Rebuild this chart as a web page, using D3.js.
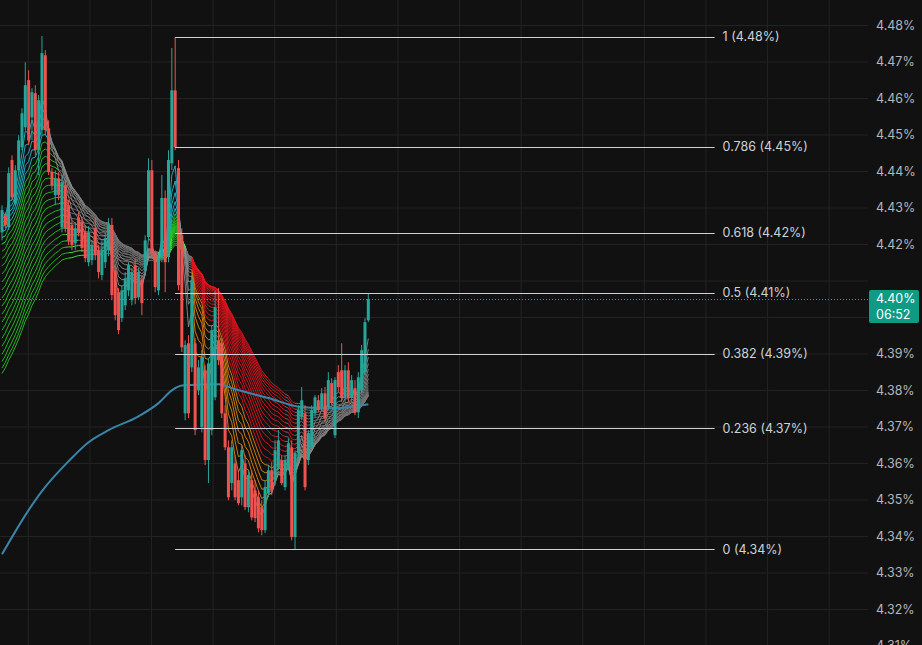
<!DOCTYPE html>
<html><head><meta charset="utf-8">
<script src="https://cdn.jsdelivr.net/npm/d3@7"></script>
<style>html,body{margin:0;padding:0;background:#111111;overflow:hidden}</style>
</head><body><svg id="c" width="922" height="645"></svg>
<script>
// ---------- DATA ----------
const open = [
4.4232,4.4279,4.4246,4.4430,4.4312,4.4402,4.4465,4.4520,4.4649,4.4547,
4.4613,4.4457,4.4512,4.4717,4.4517,4.4397,4.4334,4.4380,4.4246,4.4361,
4.4306,4.4252,4.4202,4.4273,4.4260,4.4232,4.4150,4.4156,4.4243,4.4183,
4.4115,4.4150,4.4183,4.4252,4.4128,4.4068,4.3997,4.4032,4.4073,4.4046,
4.4142,4.4054,4.4101,4.4128,4.4219,4.4402,4.4175,4.4073,4.4161,4.4326,
4.4164,4.4421,4.4621,4.4408,4.4224,4.3736,4.3928,4.3862,4.3928,4.3799,
4.3698,4.3854,4.3608,4.3690,4.3780,4.3936,4.3928,4.3736,4.3643,4.3545,
4.3599,4.3553,4.3506,4.3599,4.3479,4.3553,4.3525,4.3506,4.3479,4.3416,
4.3517,4.3580,4.3553,4.3588,4.3608,4.3534,4.3588,4.3643,4.3397,4.3627,
4.3725,4.3736,4.3608,4.3643,4.3736,4.3772,4.3753,4.3791,4.3753,4.3819,
4.3676,4.3849,4.3854,4.3778,4.3854,4.3778,4.3805,4.3739,4.3799,4.3849,4.3991];
const high = [
4.4306,4.4287,4.4410,4.4443,4.4416,4.4498,4.4572,4.4698,4.4676,4.4627,
4.4635,4.4608,4.4770,4.4731,4.4539,4.4408,4.4402,4.4397,4.4389,4.4375,
4.4320,4.4265,4.4260,4.4287,4.4271,4.4252,4.4249,4.4210,4.4273,4.4197,
4.4210,4.4232,4.4271,4.4271,4.4142,4.4079,4.4087,4.4123,4.4150,4.4134,
4.4161,4.4134,4.4115,4.4224,4.4435,4.4430,4.4183,4.4169,4.4389,4.4347,
4.4457,4.4737,4.4767,4.4430,4.4243,4.3936,4.3950,4.4115,4.3942,4.3882,
4.3909,4.3868,4.3887,4.3978,4.4073,4.4079,4.3942,4.3758,4.3662,4.3662,
4.3621,4.3580,4.3649,4.3621,4.3580,4.3580,4.3553,4.3525,4.3498,4.3553,
4.3594,4.3602,4.3662,4.3690,4.3621,4.3621,4.3668,4.3662,4.3635,4.3758,
4.3808,4.3758,4.3690,4.3758,4.3786,4.3786,4.3805,4.3808,4.3849,4.3832,
4.3835,4.3868,4.3928,4.3868,4.3876,4.3841,4.3827,4.3849,4.3923,4.3997,4.4065];
const low = [
4.4210,4.4243,4.4238,4.4320,4.4304,4.4389,4.4457,4.4512,4.4471,4.4484,
4.4443,4.4389,4.4498,4.4498,4.4389,4.4347,4.4306,4.4320,4.4232,4.4232,
4.4197,4.4183,4.4183,4.4221,4.4178,4.4150,4.4139,4.4142,4.4156,4.4106,
4.4101,4.4134,4.4167,4.4046,4.3991,4.3953,4.3986,4.4019,4.4057,4.4032,
4.4035,4.4046,4.4005,4.4115,4.4210,4.4161,4.4068,4.4060,4.4150,4.4068,
4.4150,4.4402,4.4457,4.4073,4.3904,4.3717,4.3723,4.3849,4.3676,4.3786,
4.3684,4.3594,4.3545,4.3676,4.3772,4.3868,4.3723,4.3635,4.3498,4.3525,
4.3498,4.3484,4.3484,4.3471,4.3465,4.3443,4.3438,4.3410,4.3402,4.3408,
4.3506,4.3512,4.3539,4.3580,4.3539,4.3525,4.3580,4.3388,4.3364,4.3613,
4.3717,4.3525,4.3594,4.3635,4.3725,4.3739,4.3745,4.3712,4.3745,4.3758,
4.3668,4.3794,4.3767,4.3767,4.3767,4.3767,4.3731,4.3723,4.3791,4.3841,4.3986];
const close = [
4.4293,4.4252,4.4394,4.4328,4.4402,4.4484,4.4558,4.4635,4.4484,4.4616,
4.4457,4.4594,4.4723,4.4512,4.4397,4.4361,4.4380,4.4334,4.4369,4.4243,
4.4210,4.4197,4.4243,4.4230,4.4189,4.4161,4.4232,4.4197,4.4169,4.4123,
4.4183,4.4216,4.4252,4.4060,4.4005,4.3964,4.4073,4.4106,4.4142,4.4123,
4.4052,4.4123,4.4038,4.4210,4.4402,4.4175,4.4082,4.4161,4.4326,4.4150,
4.4430,4.4621,4.4465,4.4087,4.3917,4.3923,4.3736,4.4101,4.3690,4.3862,
4.3890,4.3608,4.3873,4.3964,4.4027,4.3882,4.3736,4.3643,4.3506,4.3643,
4.3506,4.3490,4.3635,4.3479,4.3567,4.3451,4.3449,4.3421,4.3416,4.3534,
4.3580,4.3525,4.3635,4.3662,4.3545,4.3608,4.3654,4.3397,4.3627,4.3745,
4.3772,4.3534,4.3682,4.3745,4.3780,4.3745,4.3791,4.3723,4.3827,4.3764,
4.3827,4.3808,4.3778,4.3854,4.3778,4.3827,4.3739,4.3835,4.3909,4.3986,4.4049];

// moving-average ribbon: periods and their values at the left edge of the picture
const ribbonPeriods = [5,7,9,11,13,15,17,19,21,23,25,27,29,31,33,35,37,39,41,43,45,47,49,51];
const ribbonSeeds = [4.4290,4.4275,4.4262,4.4250,4.4235,4.4218,4.4200,4.4180,4.4160,4.4140,4.4118,4.4096,
                     4.4074,4.4052,4.4030,4.4008,4.3986,4.3964,4.3942,4.3920,4.3898,4.3878,4.3860,4.3845];

// long moving average (blue), read at a few candle positions
const longMaIdx = [0,8,12,20,26,32,41,47,51,54,65,70,80,90,100,110];
const longMaVal = [4.3350,4.3471,4.3523,4.3605,4.3657,4.3690,4.3728,4.3764,4.3799,4.3812,4.3816,4.3802,4.3778,4.3753,4.3750,4.3761];

// fibonacci retracement
const fibRatios = [1, 0.786, 0.618, 0.5, 0.382, 0.236, 0];
const fibHighIdx = 52, fibLowIdx = 88, fibEndIdx = 214;

const yTickValues = [4.31,4.32,4.33,4.34,4.35,4.36,4.37,4.38,4.39,4.40,4.41,4.42,4.43,4.44,4.45,4.46,4.47,4.48];
const timeGridIdx = [7.9,26.4,44.9,63.4,81.9,100.4,118.9,137.4,155.9,174.4,192.9,211.4,229.9,248.4];
const countdown = "06:52";

// ---------- DRAW ----------
const W = 922, H = 645, plotRight = 868;
const FONT = "Inter, 'Noto Sans', sans-serif";
const svg = d3.select('#c');
const y = d3.scaleLinear().domain([4.48, 4.32]).range([25, 609]);
const x = d3.scaleLinear().domain([0, 110]).range([2, 368.3]);
const UP = '#26a69a', DOWN = '#ef5350';

svg.append('rect').attr('width', W).attr('height', H).attr('fill', '#111111');

// grid
const gH = svg.append('g').attr('transform', `translate(${plotRight},0)`)
  .call(d3.axisLeft(y).tickValues(yTickValues).tickSize(plotRight).tickFormat(''));
gH.select('.domain').remove();
gH.selectAll('line').attr('stroke', '#232323');
svg.append('g').selectAll('line').data(timeGridIdx).join('line')
  .attr('x1', d => x(d)).attr('x2', d => x(d)).attr('y1', 0).attr('y2', H)
  .attr('stroke', '#232323');

// ribbon
const n = close.length;
const emas = ribbonPeriods.map((p, k) => {
  const a = 2 / (p + 1); const out = [ribbonSeeds[k]];
  for (let i = 1; i < n; i++) out.push(out[i - 1] + a * (close[i] - out[i - 1]));
  return out;
});
const longest = emas[emas.length - 1];
const mid = emas[8];
const LAG = 6;
function segColor(k, i) {
  const j = Math.max(0, i - LAG);
  const s = (emas[k][i] - emas[k][j]) / (i - j);
  const sl = (longest[i] - longest[j]) / (i - j);
  const up = mid[i] > longest[i];
  const p = ribbonPeriods[k];
  if (s > 0.00008 && up && sl > 0.0001 && i < 100) return p <= 13 ? '#22b8cf' : (s < 0.0006 ? '#45ee45' : '#24c424');
  if (s < -0.0001 && !up && sl < -0.0008) return p <= 17 ? '#e0850c' : '#e3141c';
  return p <= 17 ? '#8a8a8a' : '#727272';
}
const gR = svg.append('g').attr('fill', 'none').attr('stroke-width', 1);
for (let k = emas.length - 1; k >= 0; k--) {
  let cur = null, pts = [];
  const flush = () => {
    if (pts.length > 1) gR.append('path').attr('stroke', cur).attr('stroke-opacity', 0.9)
      .attr('d', d3.line().x(d => x(d)).y(d => y(emas[k][d]))(pts));
  };
  for (let i = 1; i < n; i++) {
    const c = segColor(k, i);
    if (c !== cur) { flush(); cur = c; pts = [i - 1]; }
    pts.push(i);
  }
  flush();
}

// long MA
svg.append('path').datum(longMaIdx.map((d, j) => [d, longMaVal[j]]))
  .attr('fill', 'none').attr('stroke', '#3a84aa').attr('stroke-width', 2)
  .attr('d', d3.line().x(d => x(d[0])).y(d => y(d[1])).curve(d3.curveMonotoneX));

// candles
const idx = d3.range(n);
const gC = svg.append('g');
gC.selectAll('line').data(idx).join('line')
  .attr('x1', i => x(i)).attr('x2', i => x(i))
  .attr('y1', i => y(high[i])).attr('y2', i => y(low[i]))
  .attr('stroke', i => close[i] >= open[i] ? UP : DOWN).attr('stroke-width', 1);
gC.selectAll('rect').data(idx).join('rect')
  .attr('x', i => x(i) - 1.5).attr('width', 3)
  .attr('y', i => y(Math.max(open[i], close[i])))
  .attr('height', i => Math.max(1, Math.abs(y(open[i]) - y(close[i]))))
  .attr('fill', i => close[i] >= open[i] ? UP : DOWN);

// fib
const fHi = high[fibHighIdx], fLo = low[fibLowIdx];
const gF = svg.append('g');
fibRatios.forEach(r => {
  const p = fLo + r * (fHi - fLo);
  gF.append('line').attr('x1', x(fibHighIdx)).attr('x2', x(fibEndIdx))
    .attr('y1', Math.round(y(p)) + 0.5).attr('y2', Math.round(y(p)) + 0.5)
    .attr('stroke', '#cfd1d6').attr('stroke-width', 1);
  gF.append('text').attr('x', x(fibEndIdx) + 8).attr('y', y(p)).attr('dy', '0.35em')
    .attr('fill', '#cfd1d6').attr('font-family', FONT).attr('font-size', 12.5)
    .text(`${r} (${p.toFixed(2)}%)`);
});

// current price dotted line
const last = close[n - 1];
svg.append('line').attr('x1', 0).attr('x2', plotRight)
  .attr('y1', Math.round(y(last)) + 0.5).attr('y2', Math.round(y(last)) + 0.5)
  .attr('stroke', UP).attr('stroke-dasharray', '1,2');

// price axis labels (the one under the price badge is hidden by the badge)
const gA = svg.append('g').attr('transform', `translate(876,0)`)
  .call(d3.axisRight(y).tickValues(yTickValues.filter(v => Math.abs(y(v) - y(last)) > 24))
    .tickSize(0).tickPadding(0).tickFormat(d => d.toFixed(2) + '%'));
gA.select('.domain').remove();
gA.selectAll('text').attr('fill', '#b4b6bc').attr('font-family', FONT).attr('font-size', 12.5);

// badge
const by = y(last);
svg.append('rect').attr('x', 869).attr('y', by - 9).attr('width', 50).attr('height', 33)
  .attr('rx', 2).attr('fill', '#0e9a83');
svg.append('text').attr('x', 876).attr('y', by).attr('dy', '0.35em').attr('fill', '#ffffff')
  .attr('font-family', FONT).attr('font-size', 12.5).text(last.toFixed(2) + '%');
svg.append('text').attr('x', 876).attr('y', by + 16).attr('dy', '0.35em').attr('fill', '#ffffff')
  .attr('font-family', FONT).attr('font-size', 12.5).text(countdown);
</script></body></html>
